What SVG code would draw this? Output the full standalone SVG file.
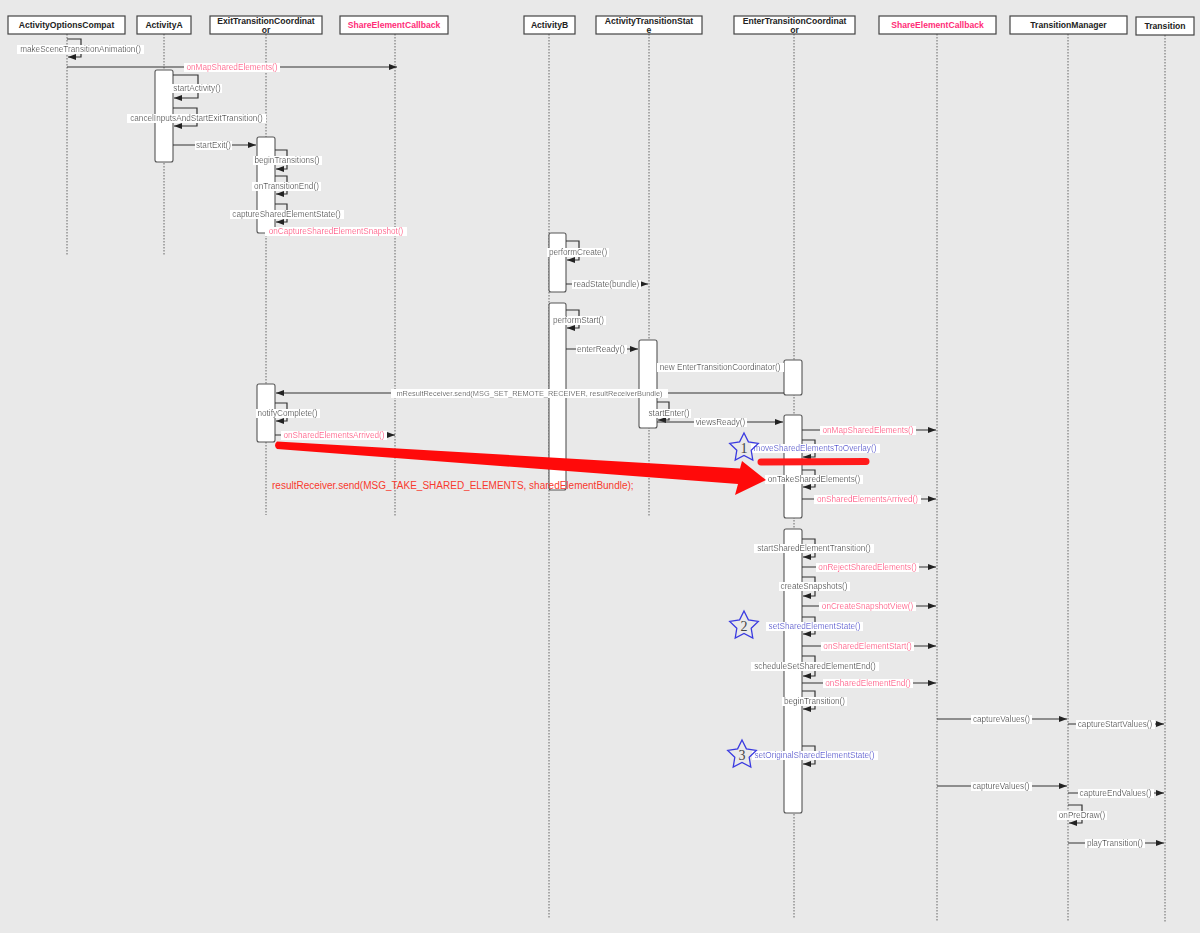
<svg xmlns="http://www.w3.org/2000/svg" width="1200" height="933" viewBox="0 0 1200 933">
<style>
.hd{fill:#fff;stroke:#444;stroke-width:1.2}
.ht{font-family:"Liberation Sans",Arial,sans-serif;font-size:8.6px;font-weight:bold;fill:#222;text-anchor:middle}
.htp{fill:#ff2d78}
.ll{stroke:#666;stroke-width:1;stroke-dasharray:1.5 1.5;fill:none}
.act{fill:#fff;stroke:#555;stroke-width:1.1}
.m{stroke:#333;stroke-width:1.2;fill:none;marker-end:url(#ah)}
.lbl{font-family:"Liberation Sans",Arial,sans-serif;font-size:8.2px;fill:#333;text-anchor:middle}
.sm{font-size:7.4px}
.pk{fill:#ff3d86}
.bl{fill:#3b3bd4}
.star{fill:none;stroke:#3a3ae0;stroke-width:1.3}
.sn{font-family:"Liberation Serif","Times New Roman",serif;font-size:14px;fill:#444;text-anchor:middle}
</style>
<defs>
<marker id="ah" markerUnits="userSpaceOnUse" markerWidth="9" markerHeight="7" refX="8" refY="3" orient="auto">
<path d="M0,0 L8,3 L0,6 z" fill="#222"/>
</marker>
<filter id="bg" x="-0.02" y="0" width="1.04" height="1">
<feFlood flood-color="#ffffff"/>
<feComposite in="SourceGraphic" operator="over"/>
</filter>
<polygon id="starShape" points="0,-15 4.4,-6.1 14.3,-4.6 7.2,2.3 8.8,12.1 0,7.5 -8.8,12.1 -7.2,2.3 -14.3,-4.6 -4.4,-6.1"/>
</defs>
<rect width="1200" height="933" fill="#e9e9e9"/>

<g id="ActivityOptionsCompat">
<line class="ll" x1="67" y1="34" x2="67" y2="256"/>
<rect class="hd" x="8" y="16" width="117" height="18"/>
<text class="ht" x="66.5" y="28">ActivityOptionsCompat</text>
</g>
<g id="ActivityA">
<line class="ll" x1="164" y1="34" x2="164" y2="256"/>
<rect class="hd" x="137" y="16" width="54" height="18"/>
<text class="ht" x="164" y="28">ActivityA</text>
<rect class="act" x="155" y="70" width="18" height="92" rx="2"/>
</g>
<g id="ExitTransitionCoordinator">
<line class="ll" x1="266" y1="34" x2="266" y2="515"/>
<rect class="hd" x="210" y="16" width="112" height="18"/>
<text class="ht" x="266" y="24">ExitTransitionCoordinat</text>
<text class="ht" x="266" y="33">or</text>
<rect class="act" x="257" y="137" width="18" height="96" rx="2"/>
<rect class="act" x="257" y="384" width="18" height="58" rx="2"/>
</g>
<g id="ShareElementCallbackA">
<line class="ll" x1="395" y1="34" x2="395" y2="517"/>
<rect class="hd" x="340" y="16" width="108" height="18"/>
<text class="ht htp" x="394" y="28">ShareElementCallback</text>
</g>
<g id="ActivityB">
<line class="ll" x1="549" y1="34" x2="549" y2="919"/>
<rect class="hd" x="524" y="16" width="51" height="18"/>
<text class="ht" x="549.5" y="28">ActivityB</text>
<rect class="act" x="549" y="233" width="17" height="59" rx="2"/>
<rect class="act" x="549" y="303" width="17" height="187" rx="2"/>
</g>
<g id="ActivityTransitionState">
<line class="ll" x1="649" y1="34" x2="649" y2="517"/>
<rect class="hd" x="596" y="16" width="106" height="18"/>
<text class="ht" x="649" y="24">ActivityTransitionStat</text>
<text class="ht" x="649" y="33">e</text>
<rect class="act" x="639" y="340" width="18" height="88" rx="2"/>
</g>
<g id="EnterTransitionCoordinator">
<line class="ll" x1="794" y1="34" x2="794" y2="919"/>
<rect class="hd" x="734" y="16" width="121" height="18"/>
<text class="ht" x="794.5" y="24">EnterTransitionCoordinat</text>
<text class="ht" x="794.5" y="33">or</text>
<rect class="act" x="784" y="360" width="18" height="35" rx="2"/>
<rect class="act" x="784" y="415" width="18" height="103" rx="2"/>
<rect class="act" x="784" y="529" width="18" height="284" rx="2"/>
</g>
<g id="ShareElementCallbackB">
<line class="ll" x1="937" y1="34" x2="937" y2="922"/>
<rect class="hd" x="879" y="16" width="117" height="18"/>
<text class="ht htp" x="937.5" y="28">ShareElementCallback</text>
</g>
<g id="TransitionManager">
<line class="ll" x1="1068" y1="34" x2="1068" y2="922"/>
<rect class="hd" x="1010" y="16" width="117" height="18"/>
<text class="ht" x="1068.5" y="28">TransitionManager</text>
</g>
<g id="Transition">
<line class="ll" x1="1165" y1="35" x2="1165" y2="922"/>
<rect class="hd" x="1136" y="17" width="58" height="18"/>
<text class="ht" x="1165" y="29">Transition</text>
</g>

<g id="connectors">
<path class="m" d="M67,39 H81 V57 H68"/>
<line class="m" x1="67" y1="67" x2="397" y2="67"/>
<path class="m" d="M173,75 H198 V98 H174"/>
<path class="m" d="M173,108 H197 V126 H174"/>
<line class="m" x1="173" y1="145" x2="256" y2="145"/>
<path class="m" d="M275,150 H287 V169 H276"/>
<path class="m" d="M275,176 H287 V194 H276"/>
<path class="m" d="M275,204 H287 V222 H276"/>
<line class="m" x1="275" y1="231" x2="395" y2="231"/>
<path class="m" d="M566,241 H579 V260 H567"/>
<line class="m" x1="566" y1="284" x2="648" y2="284"/>
<path class="m" d="M566,310 H579 V328 H567"/>
<line class="m" x1="566" y1="349" x2="638" y2="349"/>
<line class="m" x1="657" y1="367" x2="783" y2="367"/>
<line class="m" x1="784" y1="393" x2="276" y2="393"/>
<path class="m" d="M275,403 H287 V421 H276"/>
<line class="m" x1="275" y1="435" x2="395" y2="435"/>
<path class="m" d="M657,402 H669 V420 H658"/>
<line class="m" x1="657" y1="422" x2="783" y2="422"/>
<line class="m" x1="802" y1="430" x2="936" y2="430"/>
<path class="m" d="M802,440 H815 V457 H803"/>
<path class="m" d="M802,470 H815 V487 H803"/>
<line class="m" x1="802" y1="499" x2="936" y2="499"/>
<path class="m" d="M802,539 H815 V557 H803"/>
<line class="m" x1="802" y1="567" x2="936" y2="567"/>
<path class="m" d="M802,577 H815 V596 H803"/>
<line class="m" x1="802" y1="606" x2="936" y2="606"/>
<path class="m" d="M802,617 H815 V634 H803"/>
<line class="m" x1="802" y1="646" x2="936" y2="646"/>
<path class="m" d="M802,656 H815 V676 H803"/>
<line class="m" x1="802" y1="683" x2="936" y2="683"/>
<path class="m" d="M802,691 H815 V709 H803"/>
<path class="m" d="M802,746 H815 V764 H803"/>
<line class="m" x1="937" y1="719" x2="1067" y2="719"/>
<line class="m" x1="1068" y1="724" x2="1164" y2="724"/>
<line class="m" x1="937" y1="786" x2="1067" y2="786"/>
<line class="m" x1="1068" y1="793" x2="1164" y2="793"/>
<path class="m" d="M1068,805 H1082 V823 H1069"/>
<line class="m" x1="1068" y1="843" x2="1164" y2="843"/>

<text class="lbl" x="80.5" y="52" filter="url(#bg)">makeSceneTransitionAnimation()</text>
<text class="lbl pk" x="232" y="70" filter="url(#bg)">onMapSharedElements()</text>
<text class="lbl" x="197" y="91" filter="url(#bg)">startActivity()</text>
<text class="lbl" x="196.5" y="121" filter="url(#bg)">cancelInputsAndStartExitTransition()</text>
<text class="lbl" x="213.5" y="148" filter="url(#bg)">startExit()</text>
<text class="lbl" x="287" y="163" filter="url(#bg)">beginTransitions()</text>
<text class="lbl" x="286.5" y="189" filter="url(#bg)">onTransitionEnd()</text>
<text class="lbl" x="286.5" y="217" filter="url(#bg)">captureSharedElementState()</text>
<text class="lbl pk" x="336" y="234" filter="url(#bg)">onCaptureSharedElementSnapshot()</text>
<text class="lbl" x="578" y="255" filter="url(#bg)">performCreate()</text>
<text class="lbl" x="606.5" y="287" filter="url(#bg)">readState(bundle)</text>
<text class="lbl" x="578.5" y="323" filter="url(#bg)">performStart()</text>
<text class="lbl" x="601" y="352" filter="url(#bg)">enterReady()</text>
<text class="lbl" x="720" y="370" filter="url(#bg)">new EnterTransitionCoordinator()</text>
<text class="lbl sm" x="529.5" y="396" filter="url(#bg)">mResultReceiver.send(MSG_SET_REMOTE_RECEIVER, resultReceiverBundle)</text>
<text class="lbl" x="287.5" y="416" filter="url(#bg)">notifyComplete()</text>
<text class="lbl pk" x="334" y="438" filter="url(#bg)">onSharedElementsArrived()</text>
<text class="lbl" x="669" y="416" filter="url(#bg)">startEnter()</text>
<text class="lbl" x="720.5" y="425" filter="url(#bg)">viewsReady()</text>
<text class="lbl pk" x="868" y="433" filter="url(#bg)">onMapSharedElements()</text>
<text class="lbl bl" x="815" y="451" filter="url(#bg)">moveSharedElementsToOverlay()</text>
<text class="lbl" x="814" y="482" filter="url(#bg)">onTakeSharedElements()</text>
<text class="lbl pk" x="867.5" y="502" filter="url(#bg)">onSharedElementsArrived()</text>
<text class="lbl" x="814" y="551" filter="url(#bg)">startSharedElementTransition()</text>
<text class="lbl pk" x="867.5" y="570" filter="url(#bg)">onRejectSharedElements()</text>
<text class="lbl" x="814" y="589" filter="url(#bg)">createSnapshots()</text>
<text class="lbl pk" x="867.5" y="609" filter="url(#bg)">onCreateSnapshotView()</text>
<text class="lbl bl" x="814.5" y="629" filter="url(#bg)">setSharedElementState()</text>
<text class="lbl pk" x="867.5" y="649" filter="url(#bg)">onSharedElementStart()</text>
<text class="lbl" x="815" y="669" filter="url(#bg)">scheduleSetSharedElementEnd()</text>
<text class="lbl pk" x="868" y="686" filter="url(#bg)">onSharedElementEnd()</text>
<text class="lbl" x="814.5" y="704" filter="url(#bg)">beginTransition()</text>
<text class="lbl bl" x="814.5" y="758" filter="url(#bg)">setOriginalSharedElementState()</text>
<text class="lbl" x="1001.5" y="722" filter="url(#bg)">captureValues()</text>
<text class="lbl" x="1115" y="727" filter="url(#bg)">captureStartValues()</text>
<text class="lbl" x="1001" y="789" filter="url(#bg)">captureValues()</text>
<text class="lbl" x="1115.5" y="796" filter="url(#bg)">captureEndValues()</text>
<text class="lbl" x="1082" y="818" filter="url(#bg)">onPreDraw()</text>
<text class="lbl" x="1115" y="846" filter="url(#bg)">playTransition()</text>
</g>

<g id="annotations">
<path d="M277,441.5 L740,468.5 L742,461 L766,480 L735,495 L738,484 L277,449 Q273,445 277,441.5 z" fill="#ff0a0a"/>
<line x1="761" y1="462" x2="866" y2="461.5" stroke="#ff1a1a" stroke-width="7" stroke-linecap="round"/>
<text x="272" y="489" font-family="'Liberation Sans',Arial,sans-serif" font-size="10px" fill="#f83a2e">resultReceiver.send(MSG_TAKE_SHARED_ELEMENTS, sharedElementBundle);</text>
<use href="#starShape" class="star" x="744" y="448"/>
<text class="sn" x="744" y="453">1</text>
<use href="#starShape" class="star" x="744" y="626"/>
<text class="sn" x="744" y="631">2</text>
<use href="#starShape" class="star" x="742" y="755"/>
<text class="sn" x="742" y="760">3</text>
</g>
</svg>
